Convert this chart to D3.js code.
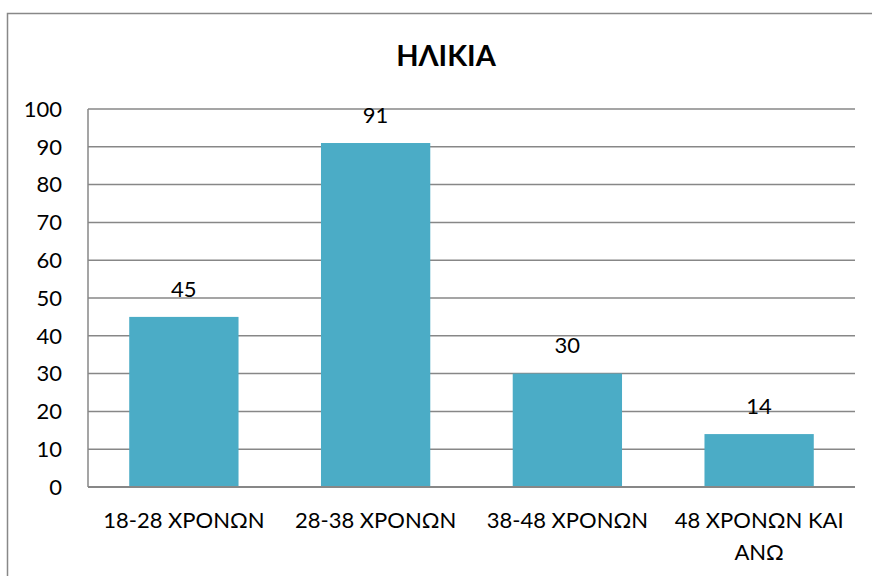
<!DOCTYPE html>
<html>
<head>
<meta charset="utf-8">
<script src="https://cdn.jsdelivr.net/npm/d3@7"></script>
<style>
  body { margin: 0; background: #fff; }
  text { font-family: Lato, "Open Sans", sans-serif; fill: #000; }
</style>
</head>
<body>
<svg width="872" height="576"></svg>
<script>
  // chart data
  var categories = ["18-28 ΧΡΟΝΩΝ", "28-38 ΧΡΟΝΩΝ", "38-48 ΧΡΟΝΩΝ", "48 ΧΡΟΝΩΝ ΚΑΙ ΑΝΩ"];
  var categoryLines = [["18-28 ΧΡΟΝΩΝ"], ["28-38 ΧΡΟΝΩΝ"], ["38-48 ΧΡΟΝΩΝ"], ["48 ΧΡΟΝΩΝ ΚΑΙ", "ΑΝΩ"]];
  var values = [45, 91, 30, 14];
  var yTicks = [0, 10, 20, 30, 40, 50, 60, 70, 80, 90, 100];
  var title = "ΗΛΙΚΙΑ";

  var svg = d3.select("svg");
  var margin = {left: 88, top: 109, right: 855, bottom: 487};

  // outer chart frame
  svg.append("rect")
      .attr("x", 7.5).attr("y", 13.5)
      .attr("width", 880).attr("height", 600)
      .attr("fill", "none")
      .attr("stroke", "#888888")
      .attr("stroke-width", 1.5);

  var x = d3.scaleBand()
      .domain(categories)
      .range([margin.left, margin.right])
      .paddingInner(0.43)
      .paddingOuter(0.215);

  var y = d3.scaleLinear()
      .domain([0, 100])
      .range([margin.bottom, margin.top]);

  // gridlines
  svg.append("g")
    .selectAll("line")
    .data(yTicks)
    .enter().append("line")
      .attr("x1", margin.left).attr("x2", margin.right)
      .attr("y1", function(d) { return y(d); })
      .attr("y2", function(d) { return y(d); })
      .attr("stroke", "#878787")
      .attr("stroke-width", 1.5);

  // left axis line
  svg.append("line")
      .attr("x1", margin.left).attr("x2", margin.left)
      .attr("y1", margin.top).attr("y2", margin.bottom)
      .attr("stroke", "#878787")
      .attr("stroke-width", 1.5);

  // bars
  svg.append("g")
    .selectAll("rect")
    .data(values)
    .enter().append("rect")
      .attr("x", function(d, i) { return x(categories[i]); })
      .attr("y", function(d) { return y(d); })
      .attr("width", x.bandwidth())
      .attr("height", function(d) { return y(0) - y(d); })
      .attr("fill", "#4bacc6");

  // bottom axis line on top of bars
  svg.append("line")
      .attr("x1", margin.left).attr("x2", margin.right)
      .attr("y1", y(0)).attr("y2", y(0))
      .attr("stroke", "#878787")
      .attr("stroke-width", 2);

  // value labels
  svg.append("g")
    .selectAll("text")
    .data(values)
    .enter().append("text")
      .attr("x", function(d, i) { return x(categories[i]) + x.bandwidth() / 2; })
      .attr("y", function(d) { return y(d) - 28; })
      .attr("dy", "0.35em")
      .attr("text-anchor", "middle")
      .attr("font-size", 22)
      .text(function(d) { return d; });

  // y tick labels
  svg.append("g")
    .selectAll("text")
    .data(yTicks)
    .enter().append("text")
      .attr("x", 62)
      .attr("y", function(d) { return y(d); })
      .attr("dy", "0.35em")
      .attr("text-anchor", "end")
      .attr("font-size", 22)
      .text(function(d) { return d; });

  // category labels
  var cat = svg.append("g")
    .selectAll("text")
    .data(categoryLines)
    .enter().append("text")
      .attr("text-anchor", "middle")
      .attr("font-size", 22)
      .attr("transform", function(d, i) { return "translate(" + (x(categories[i]) + x.bandwidth() / 2) + "," + 520 + ")"; });

  cat.selectAll("tspan")
    .data(function(d) { return d; })
    .enter().append("tspan")
      .attr("x", 0)
      .attr("y", function(d, i) { return i * 32; })
      .attr("dy", "0.35em")
      .text(function(d) { return d; });

  // title
  svg.append("text")
      .attr("x", 446)
      .attr("y", 66)
      .attr("text-anchor", "middle")
      .attr("font-size", 29)
      .attr("font-weight", "bold")
      .text(title);
</script>
</body>
</html>
